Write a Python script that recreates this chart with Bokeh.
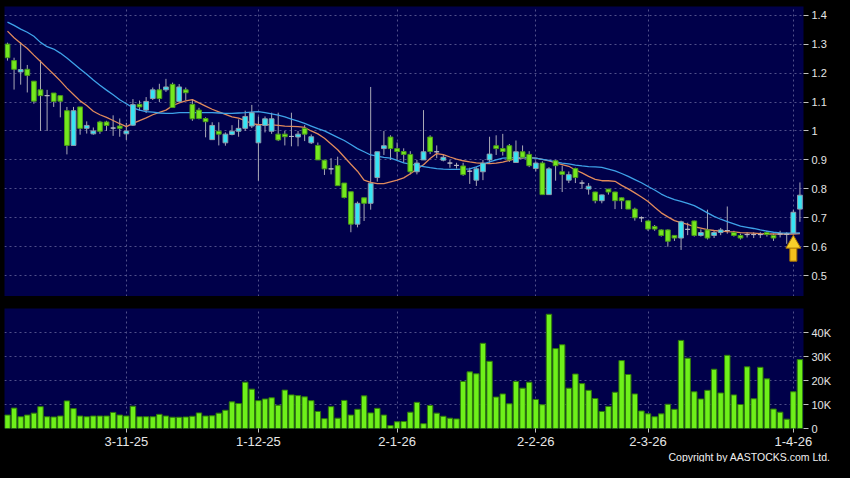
from bokeh.plotting import figure
from bokeh.layouts import column
from bokeh.models import (Range1d, FixedTicker, NumeralTickFormatter, ColumnDataSource,
                          Title, GlobalInlineStyleSheet)
from bokeh.embed import file_html
from bokeh.resources import INLINE

# ---------------- data ----------------
open_ = [1.300,1.243,1.204,1.213,1.172,1.142,1.122,1.131,1.122,1.070,
         0.950,1.083,1.009,0.990,1.031,1.031,1.010,1.017,0.990,1.020,
         1.092,1.072,1.112,1.142,1.142,1.161,1.102,1.142,1.092,1.072,
         1.043,0.970,0.999,0.959,0.988,0.999,1.009,1.017,0.959,1.019,
         0.999,0.989,0.989,0.981,0.979,1.009,0.959,0.950,0.899,0.869,
         0.880,0.820,0.790,0.678,0.769,0.750,0.839,0.939,0.979,0.939,
         0.929,0.919,0.859,0.900,0.979,0.928,0.899,0.889,0.881,0.879,
         0.861,0.830,0.859,0.900,0.949,0.939,0.949,0.891,0.928,0.919,
         0.870,0.889,0.780,0.897,0.859,0.830,0.870,0.820,0.799,0.789,
         0.759,0.799,0.789,0.769,0.759,0.730,0.700,0.689,0.670,0.658,
         0.658,0.639,0.630,0.660,0.689,0.639,0.658,0.639,0.649,0.656,
         0.649,0.639,0.642,0.642,0.642,0.649,0.639,0.644,0.643,0.647,
         0.730]
close = [1.253,1.213,1.212,1.192,1.103,1.122,1.122,1.102,1.103,0.950,
         1.070,1.009,1.019,1.000,0.999,1.019,1.010,1.009,1.000,1.091,
         1.083,1.102,1.142,1.112,1.152,1.081,1.152,1.132,1.042,1.043,
         1.032,1.019,0.989,0.989,0.999,1.009,1.050,1.063,1.019,1.042,
         1.042,0.969,0.980,0.981,0.989,0.989,0.980,0.900,0.869,0.869,
         0.811,0.770,0.678,0.750,0.750,0.819,0.928,0.949,0.939,0.929,
         0.919,0.859,0.889,0.928,0.929,0.928,0.909,0.889,0.881,0.849,
         0.861,0.869,0.889,0.920,0.939,0.929,0.900,0.928,0.909,0.880,
         0.889,0.780,0.869,0.880,0.850,0.849,0.839,0.820,0.809,0.759,
         0.779,0.789,0.759,0.759,0.730,0.700,0.700,0.661,0.661,0.639,
         0.619,0.630,0.686,0.660,0.639,0.649,0.630,0.649,0.658,0.656,
         0.639,0.630,0.642,0.642,0.642,0.642,0.630,0.644,0.643,0.719,
         0.778]
high = [1.305,1.253,1.307,1.228,1.172,1.244,1.142,1.131,1.122,1.083,
        1.083,1.083,1.033,1.012,1.035,1.035,1.054,1.043,1.028,1.110,
        1.105,1.117,1.150,1.163,1.180,1.167,1.162,1.150,1.110,1.080,
        1.047,1.030,1.030,0.995,1.020,1.040,1.070,1.090,1.050,1.050,
        1.063,1.063,1.000,1.063,1.000,1.020,0.988,0.960,0.900,0.906,
        0.911,0.820,0.790,0.756,0.769,1.152,0.928,1.000,0.985,0.960,
        0.940,0.930,0.900,1.072,0.985,0.950,0.917,0.900,0.890,0.890,
        0.873,0.875,0.900,0.980,0.985,0.990,0.955,0.967,0.950,0.930,
        0.895,0.895,0.875,0.900,0.880,0.860,0.873,0.830,0.820,0.790,
        0.780,0.800,0.790,0.770,0.760,0.735,0.705,0.690,0.675,0.660,
        0.660,0.640,0.690,0.683,0.690,0.660,0.728,0.655,0.665,0.739,
        0.655,0.645,0.650,0.650,0.650,0.655,0.645,0.655,0.650,0.728,
        0.822]
low = [1.243,1.143,1.160,1.133,1.094,1.000,1.000,1.083,1.047,0.919,
       0.950,0.987,0.991,0.987,0.990,1.000,0.983,0.980,0.969,1.017,
       1.070,1.062,1.107,1.100,1.135,1.081,1.100,1.106,1.035,1.040,
       0.978,0.970,0.950,0.949,0.985,0.980,1.000,1.010,0.828,0.995,
       0.990,0.965,0.950,0.947,0.947,0.965,0.955,0.900,0.848,0.850,
       0.811,0.767,0.650,0.667,0.689,0.728,0.825,0.917,0.900,0.900,
       0.890,0.850,0.850,0.900,0.920,0.906,0.895,0.873,0.870,0.845,
       0.817,0.810,0.830,0.890,0.917,0.915,0.893,0.890,0.905,0.875,
       0.860,0.780,0.780,0.828,0.789,0.820,0.820,0.800,0.780,0.750,
       0.750,0.780,0.730,0.730,0.730,0.690,0.685,0.655,0.655,0.635,
       0.600,0.620,0.589,0.640,0.635,0.635,0.625,0.630,0.640,0.645,
       0.635,0.625,0.632,0.630,0.630,0.635,0.620,0.632,0.610,0.645,
       0.686]
volume = [5600,8500,4900,5600,6400,9100,4900,4800,5200,11500,
          8300,5200,4900,5200,5200,5200,6700,5600,5200,9300,
          4900,4900,4900,5900,5200,4700,4700,4800,5100,6500,
          5200,5300,6400,7600,11100,10400,19300,16400,11600,12300,
          12800,9700,16000,14000,13700,13200,11600,7100,4100,9100,
          4300,11700,5600,8000,13600,6500,8400,5600,1200,2800,
          2900,6800,10900,2000,9600,6400,5100,4300,4000,19600,
          23600,22800,35500,28000,13100,14400,10300,19600,16800,19300,
          12100,9900,47600,33300,34900,16800,22700,18700,15900,12500,
          7100,9200,15100,28300,22500,14400,7300,6100,4900,6100,
          10100,8000,36700,29300,15300,12300,15900,24700,14800,30500,
          14000,10000,25700,12400,25500,20700,8100,6800,3900,15300,
          28700]
ma_short = [1.345,1.322,1.303,1.285,1.262,1.240,1.218,1.196,1.173,1.148,
            1.126,1.104,1.088,1.068,1.056,1.047,1.036,1.025,1.015,1.026,
            1.036,1.045,1.056,1.064,1.072,1.087,1.097,1.104,1.108,1.097,
            1.086,1.075,1.066,1.057,1.049,1.044,1.036,1.025,1.022,1.022,
            1.021,1.019,1.017,1.016,1.015,1.012,1.000,0.990,0.975,0.955,
            0.935,0.910,0.885,0.861,0.830,0.822,0.818,0.818,0.824,0.830,
            0.838,0.852,0.868,0.883,0.905,0.922,0.918,0.910,0.903,0.897,
            0.893,0.890,0.888,0.887,0.889,0.892,0.898,0.904,0.907,0.908,
            0.906,0.902,0.897,0.890,0.884,0.878,0.865,0.855,0.843,0.833,
            0.828,0.828,0.826,0.812,0.800,0.786,0.772,0.756,0.736,0.717,
            0.703,0.690,0.683,0.677,0.669,0.664,0.659,0.656,0.654,0.652,
            0.651,0.649,0.648,0.647,0.645,0.644,0.644,0.644,0.644,0.644,
            0.645]
ma_long = [1.376,1.365,1.352,1.341,1.327,1.306,1.291,1.283,1.269,1.252,
           1.233,1.214,1.196,1.176,1.158,1.141,1.125,1.108,1.094,1.080,
           1.072,1.067,1.065,1.062,1.061,1.061,1.063,1.063,1.063,1.063,
           1.063,1.063,1.062,1.061,1.061,1.062,1.063,1.065,1.067,1.063,
           1.059,1.055,1.049,1.041,1.034,1.026,1.017,1.008,1.000,0.989,
           0.978,0.967,0.953,0.939,0.928,0.917,0.913,0.909,0.906,0.898,
           0.890,0.885,0.881,0.877,0.873,0.870,0.868,0.867,0.867,0.868,
           0.869,0.876,0.885,0.893,0.900,0.906,0.907,0.908,0.908,0.907,
           0.906,0.902,0.898,0.893,0.889,0.886,0.882,0.879,0.877,0.876,
           0.874,0.868,0.862,0.853,0.843,0.832,0.821,0.808,0.796,0.782,
           0.771,0.763,0.757,0.750,0.742,0.730,0.717,0.705,0.695,0.687,
           0.679,0.671,0.667,0.663,0.658,0.654,0.650,0.648,0.647,0.647,
           0.648]

date_tick_idx = [18, 38, 59, 80, 97, 119]
date_tick_labels = ["3-11-25", "1-12-25", "2-1-26", "2-2-26", "2-3-26", "1-4-26"]
price_ticks = [0.5, 0.6, 0.7, 0.8, 0.9, 1.0, 1.1, 1.2, 1.3, 1.4]
vol_ticks = [0, 10000, 20000, 30000, 40000]
vol_tick_labels = ["0", "10K", "20K", "30K", "40K"]
copyright_text = "Copyright by AASTOCKS.com Ltd."

# ---------------- styling ----------------
NAVY = "#00004a"
GRID = "#50508a"
CYAN, CYAN_LINE = "#36e4f4", "#8f9cab"
GREEN, GREEN_LINE = "#74e81e", "#4a9a1a"
DOJI = "#b8b8c4"
WICK = "#a9a9b6"
VOL_FILL, VOL_LINE = "#6ef01a", "#2f7a0a"
MA_S, MA_L = "#e08a5c", "#3ea2e8"
TXT = "#e6e6e6"
FONT = "Liberation Sans"

N = len(close)
xs = list(range(N))
top = [max(o, c) for o, c in zip(open_, close)]
bot = [min(o, c) for o, c in zip(open_, close)]
fills, lines = [], []
for o, c in zip(open_, close):
    if c > o:
        fills.append(CYAN); lines.append(CYAN_LINE)
    elif c < o:
        fills.append(GREEN); lines.append(GREEN_LINE)
    else:
        fills.append(DOJI); lines.append(DOJI)

src = ColumnDataSource(dict(x=xs, top=top, bot=bot, high=high, low=low,
                            fill=fills, line=lines, vol=volume,
                            mas=ma_short, mal=ma_long))

xr = Range1d(-0.45, N - 0.46)

# ---------------- price panel ----------------
p1 = figure(width=834, height=296, x_range=xr, y_range=Range1d(0.428, 1.430),
            output_backend="svg", toolbar_location=None,
            x_axis_location=None, y_axis_location="right",
            min_border_left=4, min_border_right=30, min_border_top=6, min_border_bottom=0,
            background_fill_color=NAVY, border_fill_color="black", outline_line_color=None)

pt = FixedTicker(ticks=price_ticks)
p1.yaxis.ticker = pt
p1.ygrid.ticker = pt
p1.yaxis.formatter = NumeralTickFormatter(format="0.[0]")
dt = FixedTicker(ticks=date_tick_idx)
p1.xgrid.ticker = dt

for g in (p1.xgrid, p1.ygrid):
    g.grid_line_color = GRID
    g.grid_line_dash = "2 3"
    g.grid_line_width = 1

p1.segment(x0="x", y0="low", x1="x", y1="high", source=src, line_color=WICK, line_width=1)
p1.line("x", "mas", source=src, line_color=MA_S, line_width=1.3)
p1.line("x", "mal", source=src, line_color=MA_L, line_width=1.3)
p1.vbar(x="x", width=0.72, top="top", bottom="bot", source=src,
        fill_color="fill", line_color="line", line_width=1)

# arrow marker under the last tick date's candle
ai = date_tick_idx[-1]
tip = low[ai] - 0.005
p1.rect(x=[ai], y=[tip - 0.065], width=7, height=[0.05], width_units="screen",
        fill_color="#f3c01c", line_color="#a57000", line_width=1)
p1.scatter(x=[ai], y=[tip - 0.030], marker="triangle", size=15,
           fill_color="#f7cf2a", line_color="#a57000", line_width=1)

# ---------------- volume panel ----------------
p2 = figure(width=834, height=166, x_range=xr, y_range=Range1d(0, 50000),
            output_backend="svg", toolbar_location=None,
            y_axis_location="right",
            min_border_left=4, min_border_right=30, min_border_top=12, min_border_bottom=0,
            background_fill_color=NAVY, border_fill_color="black", outline_line_color=None)

vt = FixedTicker(ticks=vol_ticks)
p2.yaxis.ticker = vt
p2.ygrid.ticker = vt
p2.yaxis.major_label_overrides = dict(zip(vol_ticks, vol_tick_labels))
p2.xaxis.ticker = dt
p2.xgrid.ticker = dt
p2.xaxis.major_label_overrides = dict(zip(date_tick_idx, date_tick_labels))
for g in (p2.xgrid, p2.ygrid):
    g.grid_line_color = GRID
    g.grid_line_dash = "2 3"
    g.grid_line_width = 1

p2.vbar(x="x", width=0.82, top="vol", bottom=0, source=src,
        fill_color=VOL_FILL, line_color=VOL_LINE, line_width=1)

for ax in (p1.yaxis[0], p2.yaxis[0], p2.xaxis[0]):
    ax.axis_line_color = None
    ax.major_tick_line_color = "#c0c0c0"
    ax.major_tick_in = 0
    ax.major_tick_out = 5
    ax.minor_tick_line_color = None
    ax.major_label_text_color = TXT
    ax.major_label_text_font = FONT
    ax.major_label_standoff = 3
for ax in (p1.yaxis[0], p2.yaxis[0]):
    ax.major_label_text_font_size = "11px"
p2.xaxis.major_label_text_font_size = "13px"
p2.xaxis.major_tick_out = 4
p2.xaxis.major_label_standoff = 4

p2.add_layout(Title(text=copyright_text, align="right", offset=-27, standoff=0,
                    text_font=FONT, text_font_size="10.5px", text_font_style="normal",
                    text_color="#f0f0f0"), "below")

layout = column(p1, p2, spacing=0)
layout.stylesheets = [GlobalInlineStyleSheet(css="html, body { background-color: #000000; }")]

open("out.html", "w").write(file_html(layout, INLINE))
